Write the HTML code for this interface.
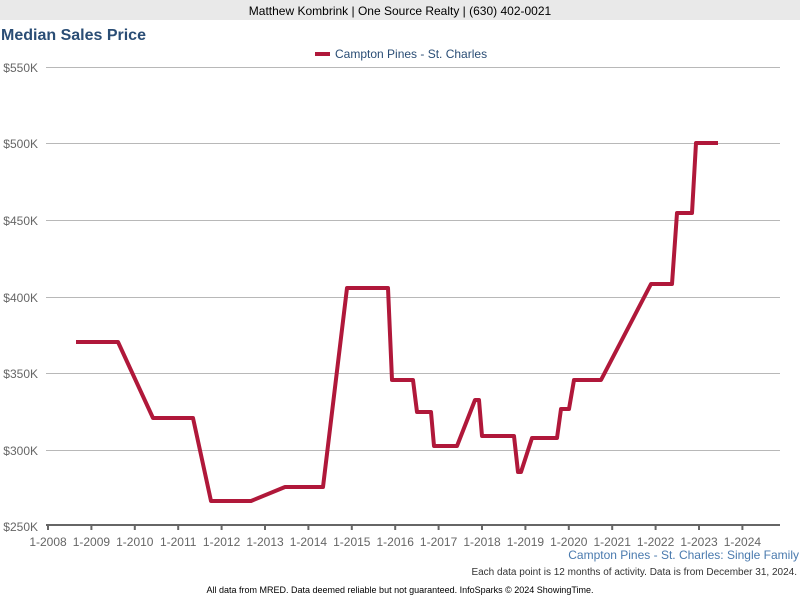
<!DOCTYPE html>
<html><head><style>
body{margin:0;width:800px;height:600px;background:#fff;font-family:"Liberation Sans",sans-serif;overflow:hidden}
</style></head><body>
<svg width="800" height="600" xmlns="http://www.w3.org/2000/svg" font-family="Liberation Sans, sans-serif">
<rect x="0" y="0" width="800" height="20" fill="#e9e9e9"/>
<text x="400" y="15" font-size="12" text-anchor="middle" fill="#000">Matthew Kombrink | One Source Realty | (630) 402-0021</text>
<text x="1" y="40" font-size="16" font-weight="bold" fill="#2a4d75">Median Sales Price</text>
<rect x="315" y="52" width="15" height="4" fill="#b0183a"/>
<text x="335" y="58" font-size="12" fill="#2a4d75">Campton Pines - St. Charles</text>
<g stroke="#b8b8b8" stroke-width="1">
<line x1="46" y1="67.5" x2="780" y2="67.5"/>
<line x1="46" y1="143.5" x2="780" y2="143.5"/>
<line x1="46" y1="220.5" x2="780" y2="220.5"/>
<line x1="46" y1="297.5" x2="780" y2="297.5"/>
<line x1="46" y1="373.5" x2="780" y2="373.5"/>
<line x1="46" y1="450.5" x2="780" y2="450.5"/>
</g>
<g font-size="12" fill="#666" text-anchor="end">
<text x="38" y="72">$550K</text><text x="38" y="148">$500K</text><text x="38" y="225">$450K</text>
<text x="38" y="302">$400K</text><text x="38" y="378">$350K</text><text x="38" y="455">$300K</text><text x="38" y="531">$250K</text>
</g>
<line x1="46" y1="525" x2="780" y2="525" stroke="#666" stroke-width="2"/>
<g stroke="#666" stroke-width="2">
<line x1="48" y1="525" x2="48" y2="530"/><line x1="91.4" y1="525" x2="91.4" y2="530"/><line x1="134.8" y1="525" x2="134.8" y2="530"/><line x1="178.2" y1="525" x2="178.2" y2="530"/><line x1="221.6" y1="525" x2="221.6" y2="530"/><line x1="265" y1="525" x2="265" y2="530"/><line x1="308.4" y1="525" x2="308.4" y2="530"/><line x1="351.8" y1="525" x2="351.8" y2="530"/><line x1="395.2" y1="525" x2="395.2" y2="530"/><line x1="438.6" y1="525" x2="438.6" y2="530"/><line x1="482" y1="525" x2="482" y2="530"/><line x1="525.4" y1="525" x2="525.4" y2="530"/><line x1="568.8" y1="525" x2="568.8" y2="530"/><line x1="612.2" y1="525" x2="612.2" y2="530"/><line x1="655.6" y1="525" x2="655.6" y2="530"/><line x1="699" y1="525" x2="699" y2="530"/><line x1="742.4" y1="525" x2="742.4" y2="530"/>
</g>
<g font-size="12" fill="#666" text-anchor="middle">
<text x="48" y="546">1-2008</text><text x="91.4" y="546">1-2009</text><text x="134.8" y="546">1-2010</text><text x="178.2" y="546">1-2011</text><text x="221.6" y="546">1-2012</text><text x="265" y="546">1-2013</text><text x="308.4" y="546">1-2014</text><text x="351.8" y="546">1-2015</text><text x="395.2" y="546">1-2016</text><text x="438.6" y="546">1-2017</text><text x="482" y="546">1-2018</text><text x="525.4" y="546">1-2019</text><text x="568.8" y="546">1-2020</text><text x="612.2" y="546">1-2021</text><text x="655.6" y="546">1-2022</text><text x="699" y="546">1-2023</text><text x="742.4" y="546">1-2024</text>
</g>
<polyline fill="none" stroke="#b0183a" stroke-width="4" stroke-linejoin="round" points="76,342 118,342 153,418 193,418 211,501 251,501 285,487 323,487 347,288 388,288 392,380 413,380 417,412 431,412 434,446 457,446 475,400 479,400 482,436 514,436 518,472 521,472 532,438 557,438 561,409 569,409 574,380 601,380 651,284 672,284 677,213 692,213 696,143 718,143"/>
<text x="799" y="559" font-size="12" fill="#4a7aae" text-anchor="end">Campton Pines - St. Charles: Single Family</text>
<text x="797" y="575" font-size="10" fill="#333" text-anchor="end">Each data point is 12 months of activity. Data is from December 31, 2024.</text>
<text x="400" y="593" font-size="9" fill="#000" text-anchor="middle">All data from MRED. Data deemed reliable but not guaranteed. InfoSparks © 2024 ShowingTime.</text>
</svg>
</body></html>
